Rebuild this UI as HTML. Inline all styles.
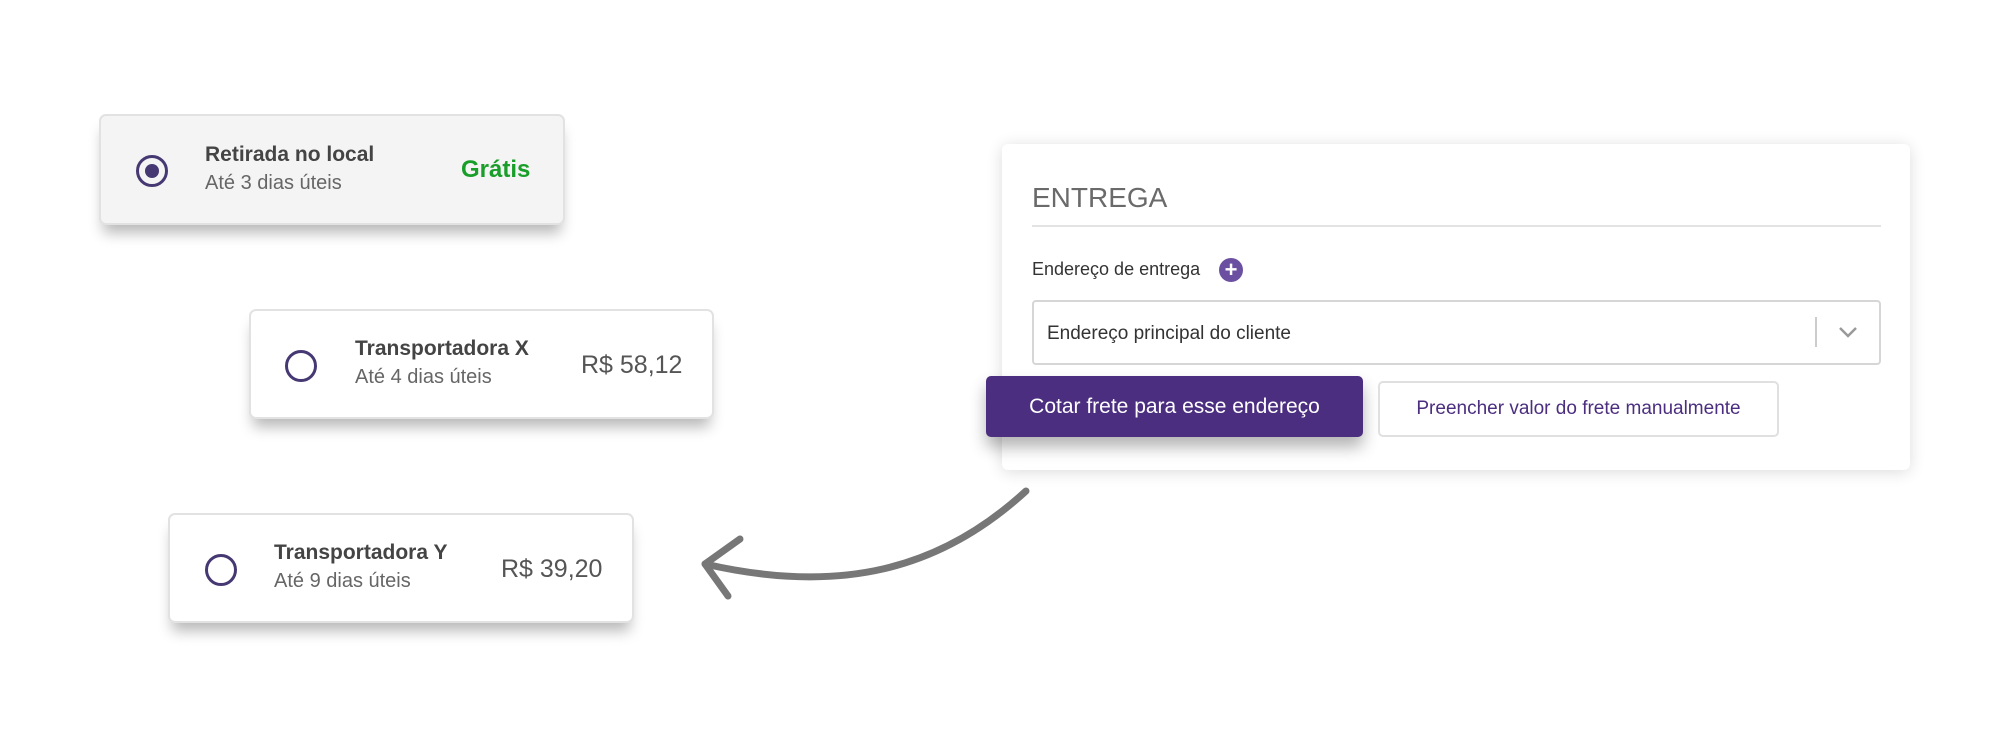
<!DOCTYPE html>
<html><head><meta charset="utf-8"><style>
body{margin:0;width:2010px;height:750px;background:#fff;position:relative;overflow:hidden;font-family:"Liberation Sans",sans-serif}
.card{position:absolute;background:#fff;border:2px solid #e2e2e2;border-radius:7px;box-sizing:border-box;box-shadow:0 12px 14px -4px rgba(0,0,0,.28)}
.radio{position:absolute;width:32px;height:32px;border:3px solid #463872;border-radius:50%;box-sizing:border-box}
.t{position:absolute;font-weight:bold;color:#444;font-size:21px;white-space:nowrap}
.s{position:absolute;color:#666;font-size:20px;white-space:nowrap}
.p{position:absolute;color:#555;font-size:25px;white-space:nowrap}
.abs{position:absolute;white-space:nowrap}
</style></head><body>

<div class="card" style="left:99px;top:114px;width:466px;height:111px;background:#f4f4f4">
 <div class="radio" style="left:35px;top:39px"><div style="position:absolute;left:6px;top:6px;width:14px;height:14px;border-radius:50%;background:#463872"></div></div>
 <div class="t" style="left:104px;top:27px">Retirada no local</div>
 <div class="s" style="left:104px;top:56px">Até 3 dias úteis</div>
 <div class="p" style="left:360px;top:40px;color:#1a9e2a;font-weight:bold;font-size:24px">Grátis</div>
</div>

<div class="card" style="left:249px;top:309px;width:465px;height:110px">
 <div class="radio" style="left:34px;top:39px"></div>
 <div class="t" style="left:104px;top:26px">Transportadora X</div>
 <div class="s" style="left:104px;top:55px">Até 4 dias úteis</div>
 <div class="p" style="left:330px;top:40px">R$ 58,12</div>
</div>

<div class="card" style="left:168px;top:513px;width:466px;height:110px">
 <div class="radio" style="left:35px;top:39px"></div>
 <div class="t" style="left:104px;top:26px">Transportadora Y</div>
 <div class="s" style="left:104px;top:55px">Até 9 dias úteis</div>
 <div class="p" style="left:331px;top:40px">R$ 39,20</div>
</div>

<div style="position:absolute;left:1002px;top:144px;width:908px;height:326px;background:#fff;border-radius:6px;box-shadow:0 2px 16px rgba(0,0,0,.14)"></div>
<div class="abs" style="left:1032px;top:182px;font-size:28px;color:#6a6a6a">ENTREGA</div>
<div style="position:absolute;left:1032px;top:225px;width:849px;height:2px;background:#e3e3e3"></div>
<div class="abs" style="left:1032px;top:259px;font-size:18px;color:#333">Endereço de entrega</div>
<div style="position:absolute;left:1219px;top:258px;width:24px;height:24px;border-radius:50%;background:#6b4fa0;color:#fff;font-size:22px;line-height:23px;text-align:center;font-weight:bold">+</div>
<div style="position:absolute;left:1032px;top:300px;width:849px;height:65px;border:2px solid #d6d6d6;border-radius:4px;box-sizing:border-box"></div>
<div class="abs" style="left:1047px;top:323px;font-size:19px;color:#333">Endereço principal do cliente</div>
<div style="position:absolute;left:1815px;top:317px;width:2px;height:30px;background:#ccc"></div>
<svg style="position:absolute;left:1838px;top:325px" width="20" height="14"><polyline points="2,3 10,11 18,3" fill="none" stroke="#999" stroke-width="2.5"/></svg>
<div style="position:absolute;left:986px;top:376px;width:377px;height:61px;background:#4b2e7f;border-radius:5px;box-shadow:0 10px 16px rgba(0,0,0,.3);color:#fff;font-size:21px;line-height:61px;text-align:center">Cotar frete para esse endereço</div>
<div style="position:absolute;left:1378px;top:381px;width:401px;height:56px;border:2px solid #e0e0e0;border-radius:5px;box-sizing:border-box;color:#4b2e7f;font-size:19px;line-height:52px;text-align:center;background:#fff">Preencher valor do frete manualmente</div>

<svg style="position:absolute;left:0;top:0" width="2010" height="750">
 <path d="M1026 491 C 940 570, 840 595, 705 564" fill="none" stroke="#777" stroke-width="7" stroke-linecap="round"/>
 <polyline points="740,539 705,564 728,596" fill="none" stroke="#777" stroke-width="7" stroke-linecap="round" stroke-linejoin="round"/>
</svg>
</body></html>
